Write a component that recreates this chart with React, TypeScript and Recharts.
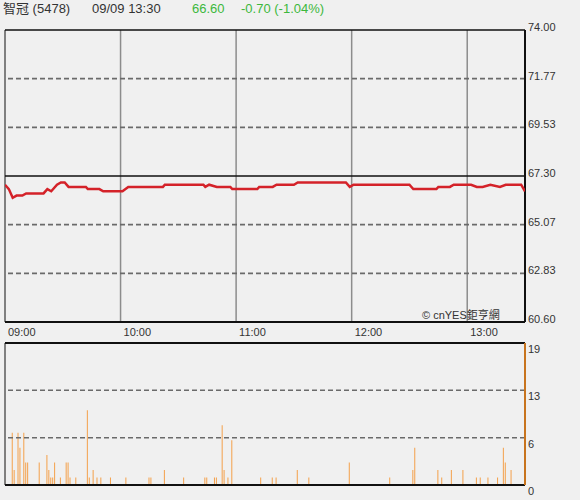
import React from "react";
import {
  ComposedChart,
  Line,
  Bar,
  XAxis,
  YAxis,
  ReferenceLine,
} from "recharts";

// minutes after 09:00
const priceMinutes = [0, 2, 4, 6, 9, 11, 20, 22, 24, 27, 29, 31, 33, 42, 43, 49, 51, 61, 64, 82, 83, 103, 104, 106, 110, 117, 118, 131, 132, 139, 141, 150, 152, 177, 179, 181, 210, 212, 224, 225, 231, 233, 242, 245, 248, 252, 257, 260, 268, 270];
const priceValues = [66.9, 66.7, 66.3, 66.4, 66.4, 66.5, 66.5, 66.7, 66.6, 66.9, 67.0, 67.0, 66.8, 66.8, 66.7, 66.7, 66.6, 66.6, 66.8, 66.8, 66.9, 66.9, 66.8, 66.9, 66.8, 66.8, 66.7, 66.7, 66.8, 66.8, 66.9, 66.9, 67.0, 67.0, 66.8, 66.9, 66.9, 66.7, 66.7, 66.8, 66.8, 66.9, 66.9, 66.8, 66.8, 66.9, 66.8, 66.9, 66.9, 66.6];

const volMinutes = [0, 4, 5, 7, 8, 10, 11, 12, 18, 22, 23, 24, 25, 26, 29, 32, 33, 34, 37, 43, 44, 46, 48, 50, 55, 63, 75, 76, 83, 93, 104, 105, 109, 110, 113, 114, 116, 118, 133, 139, 141, 152, 158, 179, 200, 212, 213, 225, 227, 232, 238, 245, 247, 251, 256, 259, 260, 263];
const volValues = [5, 7, 2, 7, 5, 7, 3, 3, 3, 4, 2, 1, 1, 3, 1, 3, 3, 1, 1, 10, 1, 2, 1, 1, 1, 1, 1, 1, 2, 1, 1, 1, 1, 1, 8, 2, 1, 6, 1, 1, 1, 2, 1, 3, 1, 2, 5, 2, 1, 2, 2, 1, 1, 1, 1, 5, 3, 2];

const hourTicks = [0, 60, 120, 180, 240];
const hourLabels = ["09:00", "10:00", "11:00", "12:00", "13:00"];
const priceTicks = [60.6, 62.83, 65.07, 67.3, 69.53, 71.77, 74.0];
const prevClose = 67.3;
const volTicks = [0, 6.33, 12.67, 19];

const stockName = "智冠 (5478)";
const stamp = "09/09 13:30";
const lastPrice = "66.60";
const change = "-0.70 (-1.04%)";
const credit = "© cnYES鉅亨網";

const priceData = priceMinutes.map((m, i) => ({ m, p: priceValues[i] }));
const volData = volMinutes.map((m, i) => ({ m, v: volValues[i] }));

const FONT = '"Liberation Sans", Arial, "Noto Sans CJK TC", sans-serif';
const TEXT = "#333333";

const XTick = (props: any) => {
  const { x, y, payload } = props;
  const idx = hourTicks.indexOf(payload.value);
  return (
    <text x={x + 3} y={y + 10} textAnchor="start" dominantBaseline="central" fontSize={11} fontFamily={FONT} fill={TEXT}>
      {hourLabels[idx]}
    </text>
  );
};

const PriceTick = (props: any) => {
  const { x, y, payload } = props;
  return (
    <text x={x + 3} y={y - 3} textAnchor="start" dominantBaseline="central" fontSize={11} fontFamily={FONT} fill={TEXT}>
      {Number(payload.value).toFixed(2)}
    </text>
  );
};

const VolTick = (props: any) => {
  const { x, y, payload } = props;
  return (
    <text x={x + 3} y={y + 6} textAnchor="start" dominantBaseline="central" fontSize={11} fontFamily={FONT} fill={TEXT}>
      {Math.round(payload.value)}
    </text>
  );
};

const headStyle: React.CSSProperties = {
  position: "absolute",
  top: 1,
  fontSize: 13,
  lineHeight: "16px",
  fontFamily: FONT,
  whiteSpace: "nowrap",
};

export default function App() {
  const dashed = priceTicks.filter((t, i) => i > 0 && i < priceTicks.length - 1 && t !== prevClose);
  const volDashed = volTicks.filter((t, i) => i > 0 && i < volTicks.length - 1);
  return (
    <div style={{ position: "absolute", left: 0, top: 0, width: 580, height: 500, background: "#f0f0f0", overflow: "hidden" }}>
      <div style={{ ...headStyle, left: 3, color: TEXT }}>{stockName}</div>
      <div style={{ ...headStyle, left: 92, color: TEXT }}>{stamp}</div>
      <div style={{ ...headStyle, left: 192, color: "#3cb83c" }}>{lastPrice}</div>
      <div style={{ ...headStyle, left: 241, color: "#3cb83c" }}>{change}</div>

      <div style={{ position: "absolute", left: 0, top: 0 }}>
        <ComposedChart width={580} height={340} data={priceData} margin={{ top: 30, right: 0, bottom: 0, left: 5 }}>
          <XAxis
            dataKey="m"
            type="number"
            domain={[0, 270]}
            ticks={hourTicks}
            height={18}
            axisLine={false}
            tickLine={false}
            tickSize={0}
            tickMargin={0}
            tick={<XTick />}
            interval={0}
            allowDataOverflow
          />
          <YAxis
            orientation="right"
            type="number"
            domain={[60.6, 74]}
            ticks={priceTicks}
            width={55}
            axisLine={false}
            tickLine={false}
            tickSize={0}
            tickMargin={0}
            tick={<PriceTick />}
            interval={0}
            allowDataOverflow
          />
          {hourTicks.slice(1).map((t) => (
            <ReferenceLine key={"v" + t} x={t} stroke="#8c8c8c" strokeWidth={1.5} />
          ))}
          {dashed.map((t) => (
            <ReferenceLine key={"h" + t} y={t} stroke="#6a6a6a" strokeWidth={1.6} strokeDasharray="5 3" />
          ))}
          <ReferenceLine y={prevClose} stroke="#111" strokeWidth={1.5} />
          <ReferenceLine y={74} stroke="#111" strokeWidth={1.5} />
          <ReferenceLine y={60.6} stroke="#111" strokeWidth={2} />
          <ReferenceLine x={0} stroke="#111" strokeWidth={1} />
          <ReferenceLine x={270} stroke="#111" strokeWidth={2} />
          <Line dataKey="p" type="linear" stroke="#d42229" strokeWidth={2.5} dot={false} isAnimationActive={false} />
        </ComposedChart>
      </div>

      <div style={{ position: "absolute", left: 422, top: 309, fontSize: 11, lineHeight: "13px", fontFamily: FONT, color: TEXT, whiteSpace: "nowrap" }}>
        {credit}
      </div>

      <div style={{ position: "absolute", left: 0, top: 330 }}>
        <ComposedChart width={580} height={170} data={volData} margin={{ top: 13, right: 0, bottom: 15, left: 5 }}>
          <XAxis dataKey="m" type="number" domain={[0, 270]} hide allowDataOverflow />
          <YAxis
            orientation="right"
            type="number"
            domain={[0, 19]}
            ticks={volTicks}
            width={55}
            axisLine={false}
            tickLine={false}
            tickSize={0}
            tickMargin={0}
            tick={<VolTick />}
            interval={0}
            allowDataOverflow
          />
          {volDashed.map((t) => (
            <ReferenceLine key={"vh" + t} y={t} stroke="#6a6a6a" strokeWidth={1.6} strokeDasharray="5 3" />
          ))}
          <Bar dataKey="v" fill="#f4a04a" barSize={1} isAnimationActive={false} />
          <ReferenceLine y={19} stroke="#111" strokeWidth={2} />
          <ReferenceLine y={0} stroke="#111" strokeWidth={2} />
          <ReferenceLine x={0} stroke="#111" strokeWidth={1} />
          <ReferenceLine x={270} stroke="#c8741e" strokeWidth={2} />
        </ComposedChart>
      </div>
    </div>
  );
}
